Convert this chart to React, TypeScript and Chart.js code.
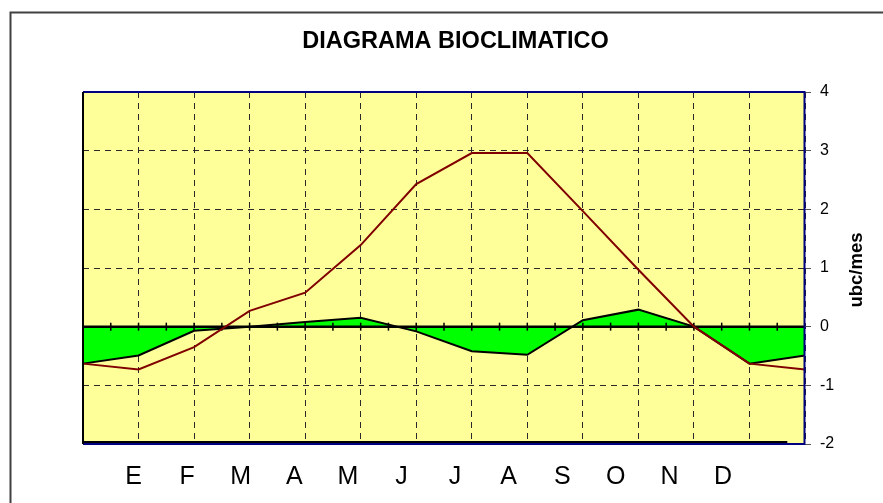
import React, { useEffect, useRef } from "react";
import { Chart, registerables } from "chart.js";

Chart.register(...registerables);

// ---- data ----
const pointLabels = ["D", "E", "F", "M", "A", "M", "J", "J", "A", "S", "O", "N", "D", "E"];
const monthLabels = ["E", "F", "M", "A", "M", "J", "J", "A", "S", "O", "N", "D"];
const potentialSeries = [-0.63, -0.73, -0.35, 0.27, 0.58, 1.39, 2.43, 2.96, 2.96, 1.97, 0.97, 0.0, -0.63, -0.73];
const realSeries = [-0.63, -0.49, -0.07, 0.0, 0.08, 0.15, -0.08, -0.42, -0.48, 0.11, 0.29, 0.0, -0.63, -0.49];
const yMin = -2;
const yMax = 4;
const chartTitle = "DIAGRAMA BIOCLIMATICO";
const yTitle = "ubc/mes";

const FONT = '"Liberation Sans", Arial, sans-serif';
const GRID = "#2a2a2a";
const NAVY = "#000080";

const decor = {
  id: "decor",
  beforeDraw(chart: any) {
    const { ctx, chartArea: a, width, height } = chart;
    ctx.save();
    ctx.fillStyle = "#ffffff";
    ctx.fillRect(0, 0, width, height);
    ctx.strokeStyle = "#404040";
    ctx.lineWidth = 2;
    ctx.strokeRect(10.5, 12.5, width + 40, height + 40);
    ctx.fillStyle = "#FFFF99";
    ctx.fillRect(a.left, a.top, a.right - a.left, a.bottom - a.top);
    ctx.restore();
  },
  afterDatasetDraw(chart: any, args: any) {
    if (args.index !== 1) return;
    const { ctx, chartArea: a, scales } = chart;
    const y0 = scales.y.getPixelForValue(0);
    ctx.save();
    ctx.strokeStyle = "#000";
    ctx.lineWidth = 2.5;
    ctx.beginPath();
    ctx.moveTo(a.left, y0);
    ctx.lineTo(a.right, y0);
    ctx.stroke();
    ctx.lineWidth = 1.5;
    for (let k = 1; k < (pointLabels.length - 1) * 2; k++) {
      const x = scales.x.getPixelForValue(k / 2);
      ctx.beginPath();
      ctx.moveTo(x, y0 - 4);
      ctx.lineTo(x, y0 + 4);
      ctx.stroke();
    }
    ctx.restore();
  },
  afterDraw(chart: any) {
    const { ctx, chartArea: a, width, scales } = chart;
    ctx.save();
    // plot frame
    ctx.lineWidth = 2;
    ctx.strokeStyle = NAVY;
    ctx.beginPath();
    ctx.moveTo(a.left, a.top);
    ctx.lineTo(a.right - 0.5, a.top);
    ctx.lineTo(a.right - 0.5, a.bottom);
    ctx.lineTo(a.left, a.bottom);
    ctx.stroke();
    ctx.strokeStyle = "#000";
    ctx.beginPath();
    ctx.moveTo(a.left, a.bottom - 2);
    ctx.lineTo(scales.x2.getPixelForValue(13.2), a.bottom - 2);
    ctx.stroke();
    ctx.beginPath();
    ctx.moveTo(a.left, a.top);
    ctx.lineTo(a.left, a.bottom);
    ctx.stroke();
    // title
    ctx.fillStyle = "#000";
    ctx.font = `bold 23.5px ${FONT}`;
    ctx.textAlign = "center";
    ctx.textBaseline = "middle";
    ctx.fillText(chartTitle, width / 2 + 14, 42);
    // y title
    ctx.font = `bold 18.5px ${FONT}`;
    ctx.translate(857, (a.top + a.bottom) / 2 + 2);
    ctx.rotate(-Math.PI / 2);
    ctx.fillText(yTitle, 0, 0);
    ctx.restore();
  },
};

export default function App() {
  const ref = useRef<HTMLCanvasElement>(null);
  useEffect(() => {
    if (!ref.current) return;
    const chart = new Chart(ref.current, {
      type: "line",
      data: {
        labels: pointLabels,
        datasets: [
          {
            label: "potencial",
            data: potentialSeries,
            borderColor: "#800000",
            borderWidth: 2,
            pointRadius: 0,
            tension: 0,
            fill: false,
          },
          {
            label: "real",
            data: realSeries,
            borderColor: "#000000",
            borderWidth: 2,
            pointRadius: 0,
            tension: 0,
            fill: { target: "origin" },
            backgroundColor: "#00FF00",
          },
        ],
      },
      options: {
        responsive: false,
        animation: false,
        events: [],
        layout: { padding: { left: 83, top: 92, right: 0, bottom: 0 } },
        plugins: {
          legend: { display: false },
          title: { display: false },
          tooltip: { enabled: false },
        },
        scales: {
          x: {
            type: "category",
            position: "bottom",
            offset: false,
            ticks: { display: false, autoSkip: false },
            grid: { color: GRID, lineWidth: 1, drawTicks: false, offset: false },
            border: { display: false, dash: [6, 5] },
            afterFit: (s: any) => {
              s.height = 0;
            },
          },
          x2: {
            type: "linear",
            position: "bottom",
            min: 0.056,
            max: 13.53,
            grid: { display: false, drawTicks: false },
            border: { display: false },
            ticks: {
              color: "#000",
              font: { family: FONT, size: 25 },
              padding: 18,
              maxRotation: 0,
              autoSkip: false,
              callback: (v: any) => monthLabels[Math.round(Number(v)) - 1] ?? "",
            },
            afterBuildTicks: (s: any) => {
              s.ticks = monthLabels.map((_, i) => ({ value: i + 1 }));
            },
            afterFit: (s: any) => {
              s.height = 59;
            },
          },
          y: {
            type: "linear",
            position: "right",
            min: yMin,
            max: yMax,
            ticks: {
              stepSize: 1,
              color: "#000",
              font: { family: FONT, size: 16 },
              padding: 9,
            },
            grid: { color: GRID, lineWidth: 1, tickLength: 6, tickColor: "#555" },
            border: { display: false, dash: [6, 5] },
            afterFit: (s: any) => {
              s.width = 78;
            },
          },
        },
      },
      plugins: [decor],
    } as any);
    return () => chart.destroy();
  }, []);
  return (
    <div style={{ position: "absolute", left: 0, top: 0, width: 883, height: 503 }}>
      <canvas ref={ref} width={883} height={503} style={{ display: "block" }} />
    </div>
  );
}
